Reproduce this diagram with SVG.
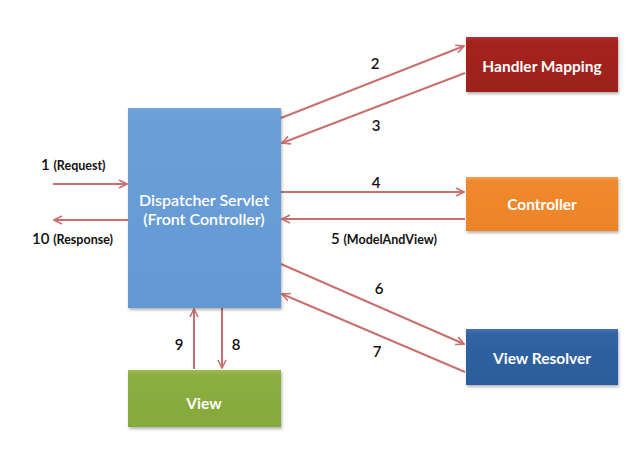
<svg xmlns="http://www.w3.org/2000/svg" width="640" height="462" viewBox="0 0 640 462">
<style>
.node-label{font-family:Lato,"Open Sans","Liberation Sans",sans-serif;font-weight:700;fill:#fff;text-anchor:middle;font-size:15.5px}
.num{font-family:Lato,"Open Sans","Liberation Sans",sans-serif;font-size:15px;fill:#111;text-anchor:middle;font-weight:600}
.small{font-family:Lato,"Open Sans","Liberation Sans",sans-serif;font-size:12.5px;font-weight:700;fill:#111}
.conn{stroke:#c9706e;stroke-width:2;fill:none;marker-end:url(#arr)}
</style>
<defs>
<marker id="arr" viewBox="0 0 10 10" refX="9" refY="5" markerWidth="5" markerHeight="5" orient="auto" markerUnits="strokeWidth">
<path d="M1,1 L9,5 L1,9" fill="none" stroke="#c9706e" stroke-width="1.6"/>
</marker>
<filter id="sh" x="-10%" y="-10%" width="130%" height="130%">
<feDropShadow dx="1" dy="2" stdDeviation="1.5" flood-color="#000" flood-opacity="0.3"/>
</filter>
<linearGradient id="gBlue" x1="0" y1="0" x2="0" y2="1"><stop offset="0" stop-color="#74a6dc"/><stop offset="0.03" stop-color="#6a9fd8"/><stop offset="1" stop-color="#6499d3"/></linearGradient>
<linearGradient id="gRed" x1="0" y1="0" x2="0" y2="1"><stop offset="0" stop-color="#b53530"/><stop offset="0.08" stop-color="#a5231f"/><stop offset="1" stop-color="#9c201c"/></linearGradient>
<linearGradient id="gOrange" x1="0" y1="0" x2="0" y2="1"><stop offset="0" stop-color="#f6a050"/><stop offset="0.08" stop-color="#f0892e"/><stop offset="1" stop-color="#ec8428"/></linearGradient>
<linearGradient id="gNavy" x1="0" y1="0" x2="0" y2="1"><stop offset="0" stop-color="#4274b0"/><stop offset="0.08" stop-color="#3163a2"/><stop offset="1" stop-color="#2c5d9b"/></linearGradient>
<linearGradient id="gGreen" x1="0" y1="0" x2="0" y2="1"><stop offset="0" stop-color="#9cbd52"/><stop offset="0.08" stop-color="#8cae42"/><stop offset="1" stop-color="#86a83c"/></linearGradient>
</defs>
<rect width="640" height="462" fill="#fff"/>
<g id="connectors">
<line class="conn" x1="53" y1="184" x2="127" y2="184"/>
<line class="conn" x1="128" y1="220" x2="54" y2="220"/>
<line class="conn" x1="281" y1="118" x2="464" y2="46"/>
<line class="conn" x1="465" y1="73" x2="282" y2="143"/>
<line class="conn" x1="281" y1="192" x2="464" y2="192"/>
<line class="conn" x1="465" y1="219" x2="282" y2="219"/>
<line class="conn" x1="281" y1="264" x2="464" y2="344"/>
<line class="conn" x1="465" y1="372" x2="282" y2="294"/>
<line class="conn" x1="194" y1="369" x2="194" y2="309"/>
<line class="conn" x1="222" y1="308" x2="222" y2="368"/>
</g>
<g id="labels">
<text x="41" y="170" class="num" style="text-anchor:start">1 <tspan class="small">(Request)</tspan></text>
<text x="32" y="244" class="num" style="text-anchor:start">10 <tspan class="small">(Response)</tspan></text>
<text x="375" y="69" class="num">2</text>
<text x="376" y="131" class="num">3</text>
<text x="376" y="188" class="num">4</text>
<text x="331" y="244" class="num" style="text-anchor:start">5 <tspan class="small">(ModelAndView)</tspan></text>
<text x="379" y="294" class="num">6</text>
<text x="377" y="357" class="num">7</text>
<text x="179" y="350" class="num">9</text>
<text x="236" y="350" class="num">8</text>
</g>
<g id="dispatcher">
<rect x="128" y="108" width="153" height="200" fill="url(#gBlue)" filter="url(#sh)"/>
<text x="204" y="206" class="node-label" style="font-weight:600;font-size:16px">Dispatcher Servlet</text>
<text x="204" y="225" class="node-label" style="font-weight:600;font-size:16px">(Front Controller)</text>
</g>
<g id="handler-mapping">
<rect x="466" y="37" width="152" height="55" fill="url(#gRed)" filter="url(#sh)"/>
<text x="542" y="72" class="node-label">Handler Mapping</text>
</g>
<g id="controller">
<rect x="466" y="177" width="152" height="54" fill="url(#gOrange)" filter="url(#sh)"/>
<text x="542" y="210" class="node-label">Controller</text>
</g>
<g id="view-resolver">
<rect x="466" y="329" width="152" height="56" fill="url(#gNavy)" filter="url(#sh)"/>
<text x="542" y="364" class="node-label">View Resolver</text>
</g>
<g id="view">
<rect x="128" y="370" width="153" height="57" fill="url(#gGreen)" filter="url(#sh)"/>
<text x="204" y="409" class="node-label">View</text>
</g>
</svg>
